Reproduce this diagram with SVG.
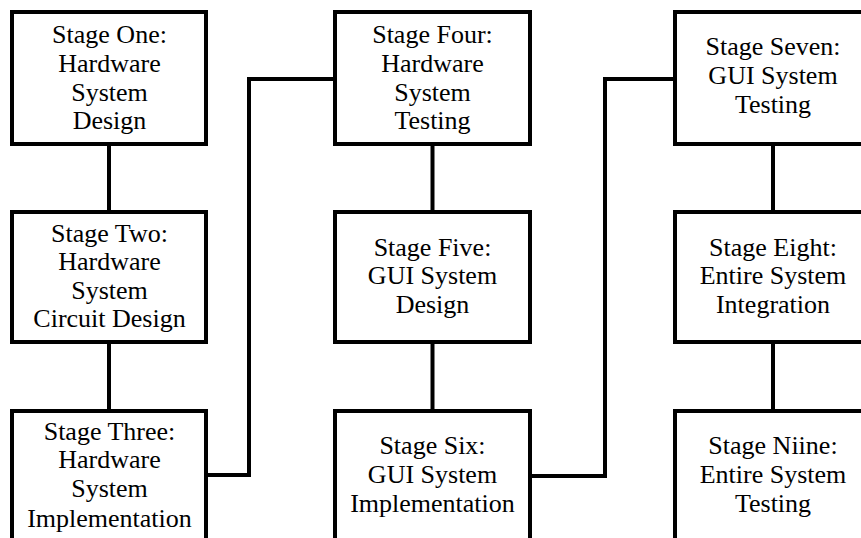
<svg xmlns="http://www.w3.org/2000/svg" width="861" height="538" viewBox="0 0 861 538">
<style>
.box{fill:#fff;stroke:#000;stroke-width:4}
.ln{fill:none;stroke:#000;stroke-width:4}
</style>
<rect width="861" height="538" fill="#fff"/>
<g id="connectors">
<line class="ln" x1="109" y1="144" x2="109" y2="212"/>
<line class="ln" x1="109" y1="342" x2="109" y2="411"/>
<polyline class="ln" points="206,475 249,475 249,79 335,79"/>
<line class="ln" x1="432.5" y1="144" x2="432.5" y2="212"/>
<line class="ln" x1="432.5" y1="342" x2="432.5" y2="411"/>
<polyline class="ln" points="530,476 605,476 605,79 675,79"/>
<line class="ln" x1="773" y1="144" x2="773" y2="212"/>
<line class="ln" x1="773" y1="342" x2="773" y2="411"/>
</g>
<g font-family="Liberation Serif" font-size="26" text-anchor="middle" fill="#000">
<g id="stage1">
<rect class="box" x="12" y="12" width="194" height="132"/>
<text x="109.5" y="43">Stage One:</text>
<text x="109.5" y="72">Hardware</text>
<text x="109.5" y="101">System</text>
<text x="109.5" y="129">Design</text>
</g>
<g id="stage2">
<rect class="box" x="12" y="212" width="194" height="130"/>
<text x="109.5" y="242">Stage Two:</text>
<text x="109.5" y="270">Hardware</text>
<text x="109.5" y="299">System</text>
<text x="109.5" y="327">Circuit Design</text>
</g>
<g id="stage3">
<rect class="box" x="12" y="411" width="194" height="140"/>
<text x="109.5" y="440">Stage Three:</text>
<text x="109.5" y="468">Hardware</text>
<text x="109.5" y="497">System</text>
<text x="109.5" y="527">Implementation</text>
</g>
<g id="stage4">
<rect class="box" x="335" y="12" width="195" height="132"/>
<text x="432.5" y="43">Stage Four:</text>
<text x="432.5" y="72">Hardware</text>
<text x="432.5" y="101">System</text>
<text x="432.5" y="129">Testing</text>
</g>
<g id="stage5">
<rect class="box" x="335" y="212" width="195" height="130"/>
<text x="432.5" y="256">Stage Five:</text>
<text x="432.5" y="284">GUI System</text>
<text x="432.5" y="313">Design</text>
</g>
<g id="stage6">
<rect class="box" x="335" y="411" width="195" height="140"/>
<text x="432.5" y="454">Stage Six:</text>
<text x="432.5" y="483">GUI System</text>
<text x="432.5" y="512">Implementation</text>
</g>
<g id="stage7">
<rect class="box" x="675" y="12" width="196" height="132"/>
<text x="773" y="55">Stage Seven:</text>
<text x="773" y="84">GUI System</text>
<text x="773" y="113">Testing</text>
</g>
<g id="stage8">
<rect class="box" x="675" y="212" width="196" height="130"/>
<text x="773" y="256">Stage Eight:</text>
<text x="773" y="284">Entire System</text>
<text x="773" y="313">Integration</text>
</g>
<g id="stage9">
<rect class="box" x="675" y="411" width="196" height="140"/>
<text x="773" y="454">Stage Niine:</text>
<text x="773" y="483">Entire System</text>
<text x="773" y="512">Testing</text>
</g>
</g>
</svg>
